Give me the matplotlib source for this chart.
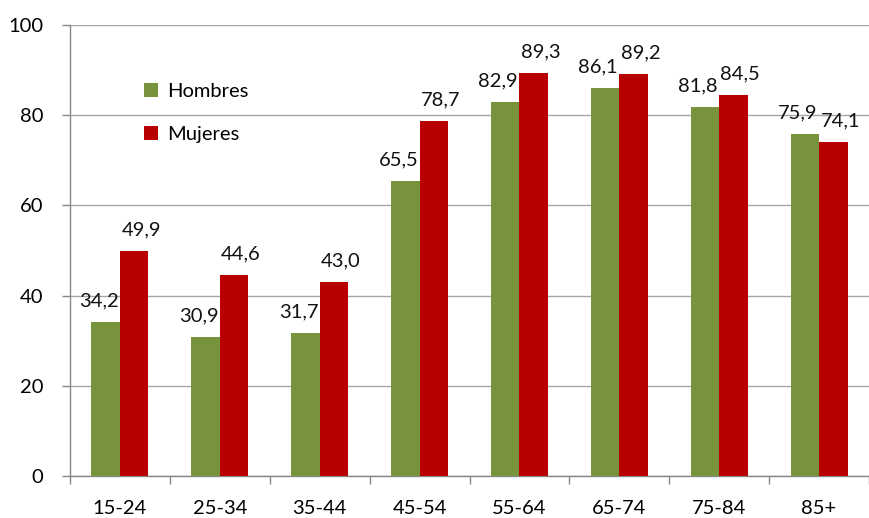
import matplotlib
matplotlib.use("Agg")
import matplotlib.pyplot as plt
import numpy as np

plt.rcParams['font.family'] = ['Lato', 'DejaVu Sans']

categories = ["15-24", "25-34", "35-44", "45-54", "55-64", "65-74", "75-84", "85+"]
hombres = [34.2, 30.9, 31.7, 65.5, 82.9, 86.1, 81.8, 75.9]
mujeres = [49.9, 44.6, 43.0, 78.7, 89.3, 89.2, 84.5, 74.1]
series_names = ["Hombres", "Mujeres"]

green = "#77933C"
red = "#B80000"
fs = 14.5

fig = plt.figure(figsize=(8.69, 5.18), dpi=100)
ax = fig.add_axes([70 / 869, (518 - 476) / 518, 799 / 869, (476 - 25) / 518])

x = np.arange(len(categories))
w = 0.285
b1 = ax.bar(x - w / 2, hombres, w, color=green, label=series_names[0], zorder=3)
b2 = ax.bar(x + w / 2, mujeres, w, color=red, label=series_names[1], zorder=3)

def fmt(v):
    return f"{v:.1f}".replace(".", ",")

for rects, vals, dx in ((b1, hombres, -5), (b2, mujeres, 5)):
    for r, v in zip(rects, vals):
        ax.annotate(fmt(v), (r.get_x() + r.get_width() / 2, v),
                    xytext=(dx, 9), textcoords="offset points",
                    ha="center", va="bottom", fontsize=fs, color="#111111")

ax.set_xlim(-0.5, len(categories) - 0.5)
ax.set_ylim(0, 100)
ax.set_yticks(range(0, 101, 20))
ax.set_xticks(x)
ax.set_xticklabels(categories)
ax.set_xticks(np.arange(-0.5, len(categories), 1), minor=True)
ax.tick_params(axis="x", which="major", length=0, pad=17, labelsize=fs)
ax.tick_params(axis="x", which="minor", length=6, color="#878787", width=1)
ax.tick_params(axis="y", length=6, color="#878787", width=1, labelsize=fs, pad=13)
ax.yaxis.grid(True, color="#A6A6A6", linewidth=1, zorder=0)
for s in ("top", "right"):
    ax.spines[s].set_visible(False)
for s in ("left", "bottom"):
    ax.spines[s].set_color("#878787")
    ax.spines[s].set_linewidth(1)

ax.legend(loc="upper left", bbox_to_anchor=(0.07, 0.912), frameon=False,
          fontsize=fs, handlelength=0.7, handleheight=0.7, labelspacing=1.3,
          handletextpad=0.45)

fig.savefig("out.png", dpi=100)
